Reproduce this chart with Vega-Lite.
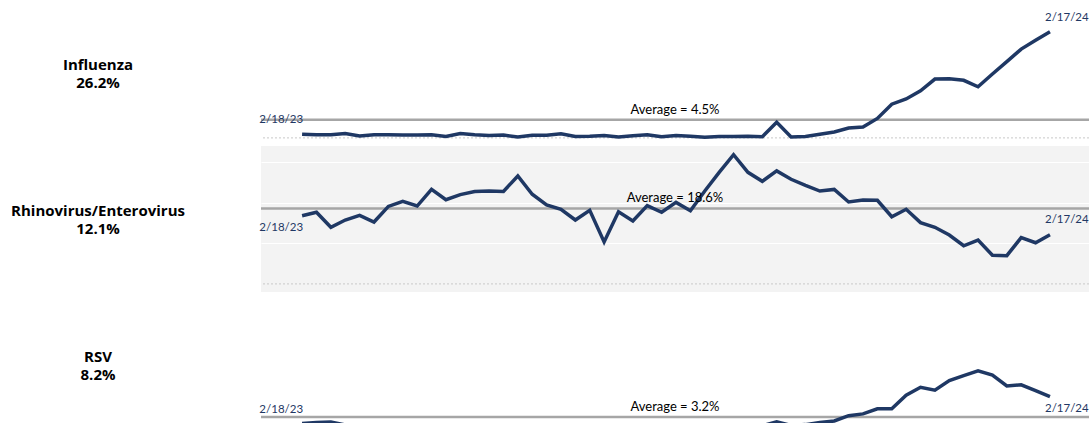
{
  "$schema": "https://vega.github.io/schema/vega-lite/v6.json",
  "padding": {"left": 10, "top": 0, "right": 0, "bottom": 0},
  "spacing": 0,
  "config": {"font": "Lato", "view": {"stroke": null}},
  "datasets": {
    "avg": [
      {"v": "Influenza", "avg": 4.5, "label": "Average = 4.5%"},
      {"v": "Rhinovirus/Enterovirus", "avg": 18.6, "label": "Average = 18.6%"},
      {"v": "RSV", "avg": 3.2, "label": "Average = 3.2%"}
    ],
    "weekly": [
      {"v":"Influenza","d":"2023-02-18","p":0.9},{"v":"Influenza","d":"2023-02-25","p":0.75},{"v":"Influenza","d":"2023-03-04","p":0.75},{"v":"Influenza","d":"2023-03-11","p":1.1},{"v":"Influenza","d":"2023-03-18","p":0.45},{"v":"Influenza","d":"2023-03-25","p":0.75},{"v":"Influenza","d":"2023-04-01","p":0.75},{"v":"Influenza","d":"2023-04-08","p":0.7},{"v":"Influenza","d":"2023-04-15","p":0.7},{"v":"Influenza","d":"2023-04-22","p":0.75},
      {"v":"Influenza","d":"2023-04-29","p":0.35},{"v":"Influenza","d":"2023-05-06","p":1.1},{"v":"Influenza","d":"2023-05-13","p":0.8},{"v":"Influenza","d":"2023-05-20","p":0.6},{"v":"Influenza","d":"2023-05-27","p":0.7},{"v":"Influenza","d":"2023-06-03","p":0.2},{"v":"Influenza","d":"2023-06-10","p":0.65},{"v":"Influenza","d":"2023-06-17","p":0.65},{"v":"Influenza","d":"2023-06-24","p":1.0},{"v":"Influenza","d":"2023-07-01","p":0.35},
      {"v":"Influenza","d":"2023-07-08","p":0.4},{"v":"Influenza","d":"2023-07-15","p":0.6},{"v":"Influenza","d":"2023-07-22","p":0.2},{"v":"Influenza","d":"2023-07-29","p":0.55},{"v":"Influenza","d":"2023-08-05","p":0.8},{"v":"Influenza","d":"2023-08-12","p":0.3},{"v":"Influenza","d":"2023-08-19","p":0.6},{"v":"Influenza","d":"2023-08-26","p":0.4},{"v":"Influenza","d":"2023-09-02","p":0.15},{"v":"Influenza","d":"2023-09-09","p":0.35},
      {"v":"Influenza","d":"2023-09-16","p":0.35},{"v":"Influenza","d":"2023-09-23","p":0.4},{"v":"Influenza","d":"2023-09-30","p":0.3},{"v":"Influenza","d":"2023-10-07","p":3.85},{"v":"Influenza","d":"2023-10-14","p":0.25},{"v":"Influenza","d":"2023-10-21","p":0.35},{"v":"Influenza","d":"2023-10-28","p":0.9},{"v":"Influenza","d":"2023-11-04","p":1.45},{"v":"Influenza","d":"2023-11-11","p":2.45},{"v":"Influenza","d":"2023-11-18","p":2.7},
      {"v":"Influenza","d":"2023-11-25","p":4.8},{"v":"Influenza","d":"2023-12-02","p":8.3},{"v":"Influenza","d":"2023-12-09","p":9.6},{"v":"Influenza","d":"2023-12-16","p":11.6},{"v":"Influenza","d":"2023-12-23","p":14.5},{"v":"Influenza","d":"2023-12-30","p":14.6},{"v":"Influenza","d":"2024-01-06","p":14.2},{"v":"Influenza","d":"2024-01-13","p":12.6},{"v":"Influenza","d":"2024-01-20","p":15.75},{"v":"Influenza","d":"2024-01-27","p":18.8},
      {"v":"Influenza","d":"2024-02-03","p":21.9},{"v":"Influenza","d":"2024-02-10","p":24.1},{"v":"Influenza","d":"2024-02-17","p":26.2},

      {"v":"Rhinovirus/Enterovirus","d":"2023-02-18","p":16.8},{"v":"Rhinovirus/Enterovirus","d":"2023-02-25","p":17.65},{"v":"Rhinovirus/Enterovirus","d":"2023-03-04","p":13.95},{"v":"Rhinovirus/Enterovirus","d":"2023-03-11","p":15.75},{"v":"Rhinovirus/Enterovirus","d":"2023-03-18","p":16.9},{"v":"Rhinovirus/Enterovirus","d":"2023-03-25","p":15.25},{"v":"Rhinovirus/Enterovirus","d":"2023-04-01","p":19.1},{"v":"Rhinovirus/Enterovirus","d":"2023-04-08","p":20.35},{"v":"Rhinovirus/Enterovirus","d":"2023-04-15","p":19.2},{"v":"Rhinovirus/Enterovirus","d":"2023-04-22","p":23.3},
      {"v":"Rhinovirus/Enterovirus","d":"2023-04-29","p":20.75},{"v":"Rhinovirus/Enterovirus","d":"2023-05-06","p":22.0},{"v":"Rhinovirus/Enterovirus","d":"2023-05-13","p":22.8},{"v":"Rhinovirus/Enterovirus","d":"2023-05-20","p":22.9},{"v":"Rhinovirus/Enterovirus","d":"2023-05-27","p":22.8},{"v":"Rhinovirus/Enterovirus","d":"2023-06-03","p":26.6},{"v":"Rhinovirus/Enterovirus","d":"2023-06-10","p":22.1},{"v":"Rhinovirus/Enterovirus","d":"2023-06-17","p":19.45},{"v":"Rhinovirus/Enterovirus","d":"2023-06-24","p":18.4},{"v":"Rhinovirus/Enterovirus","d":"2023-07-01","p":15.75},
      {"v":"Rhinovirus/Enterovirus","d":"2023-07-08","p":18.15},{"v":"Rhinovirus/Enterovirus","d":"2023-07-15","p":10.35},{"v":"Rhinovirus/Enterovirus","d":"2023-07-22","p":17.8},{"v":"Rhinovirus/Enterovirus","d":"2023-07-29","p":15.5},{"v":"Rhinovirus/Enterovirus","d":"2023-08-05","p":19.3},{"v":"Rhinovirus/Enterovirus","d":"2023-08-12","p":17.65},{"v":"Rhinovirus/Enterovirus","d":"2023-08-19","p":20.1},{"v":"Rhinovirus/Enterovirus","d":"2023-08-26","p":18.05},{"v":"Rhinovirus/Enterovirus","d":"2023-09-02","p":22.9},{"v":"Rhinovirus/Enterovirus","d":"2023-09-09","p":27.5},
      {"v":"Rhinovirus/Enterovirus","d":"2023-09-16","p":31.85},{"v":"Rhinovirus/Enterovirus","d":"2023-09-23","p":27.5},{"v":"Rhinovirus/Enterovirus","d":"2023-09-30","p":25.3},{"v":"Rhinovirus/Enterovirus","d":"2023-10-07","p":27.85},{"v":"Rhinovirus/Enterovirus","d":"2023-10-14","p":25.8},{"v":"Rhinovirus/Enterovirus","d":"2023-10-21","p":24.3},{"v":"Rhinovirus/Enterovirus","d":"2023-10-28","p":22.9},{"v":"Rhinovirus/Enterovirus","d":"2023-11-04","p":23.3},{"v":"Rhinovirus/Enterovirus","d":"2023-11-11","p":20.2},{"v":"Rhinovirus/Enterovirus","d":"2023-11-18","p":20.7},
      {"v":"Rhinovirus/Enterovirus","d":"2023-11-25","p":20.6},{"v":"Rhinovirus/Enterovirus","d":"2023-12-02","p":16.55},{"v":"Rhinovirus/Enterovirus","d":"2023-12-09","p":18.4},{"v":"Rhinovirus/Enterovirus","d":"2023-12-16","p":15.1},{"v":"Rhinovirus/Enterovirus","d":"2023-12-23","p":13.95},{"v":"Rhinovirus/Enterovirus","d":"2023-12-30","p":12.05},{"v":"Rhinovirus/Enterovirus","d":"2024-01-06","p":9.4},{"v":"Rhinovirus/Enterovirus","d":"2024-01-13","p":10.8},{"v":"Rhinovirus/Enterovirus","d":"2024-01-20","p":7.05},{"v":"Rhinovirus/Enterovirus","d":"2024-01-27","p":6.95},
      {"v":"Rhinovirus/Enterovirus","d":"2024-02-03","p":11.4},{"v":"Rhinovirus/Enterovirus","d":"2024-02-10","p":10.15},{"v":"Rhinovirus/Enterovirus","d":"2024-02-17","p":12.1},

      {"v":"RSV","d":"2023-02-18","p":1.55},{"v":"RSV","d":"2023-02-25","p":1.8},{"v":"RSV","d":"2023-03-04","p":1.95},{"v":"RSV","d":"2023-03-11","p":1.2},{"v":"RSV","d":"2023-03-18","p":1.0},{"v":"RSV","d":"2023-03-25","p":0.9},{"v":"RSV","d":"2023-04-01","p":0.8},{"v":"RSV","d":"2023-04-08","p":0.7},{"v":"RSV","d":"2023-04-15","p":0.6},{"v":"RSV","d":"2023-04-22","p":0.55},
      {"v":"RSV","d":"2023-04-29","p":0.5},{"v":"RSV","d":"2023-05-06","p":0.45},{"v":"RSV","d":"2023-05-13","p":0.4},{"v":"RSV","d":"2023-05-20","p":0.4},{"v":"RSV","d":"2023-05-27","p":0.35},{"v":"RSV","d":"2023-06-03","p":0.35},{"v":"RSV","d":"2023-06-10","p":0.3},{"v":"RSV","d":"2023-06-17","p":0.3},{"v":"RSV","d":"2023-06-24","p":0.3},{"v":"RSV","d":"2023-07-01","p":0.3},
      {"v":"RSV","d":"2023-07-08","p":0.35},{"v":"RSV","d":"2023-07-15","p":0.35},{"v":"RSV","d":"2023-07-22","p":0.4},{"v":"RSV","d":"2023-07-29","p":0.4},{"v":"RSV","d":"2023-08-05","p":0.45},{"v":"RSV","d":"2023-08-12","p":0.5},{"v":"RSV","d":"2023-08-19","p":0.5},{"v":"RSV","d":"2023-08-26","p":0.6},{"v":"RSV","d":"2023-09-02","p":0.65},{"v":"RSV","d":"2023-09-09","p":0.7},
      {"v":"RSV","d":"2023-09-16","p":0.8},{"v":"RSV","d":"2023-09-23","p":0.9},{"v":"RSV","d":"2023-09-30","p":1.0},{"v":"RSV","d":"2023-10-07","p":2.0},{"v":"RSV","d":"2023-10-14","p":1.1},{"v":"RSV","d":"2023-10-21","p":1.3},{"v":"RSV","d":"2023-10-28","p":1.85},{"v":"RSV","d":"2023-11-04","p":2.2},{"v":"RSV","d":"2023-11-11","p":3.5},{"v":"RSV","d":"2023-11-18","p":3.95},
      {"v":"RSV","d":"2023-11-25","p":5.2},{"v":"RSV","d":"2023-12-02","p":5.2},{"v":"RSV","d":"2023-12-09","p":8.55},{"v":"RSV","d":"2023-12-16","p":10.5},{"v":"RSV","d":"2023-12-23","p":9.8},{"v":"RSV","d":"2023-12-30","p":12.15},{"v":"RSV","d":"2024-01-06","p":13.4},{"v":"RSV","d":"2024-01-13","p":14.55},{"v":"RSV","d":"2024-01-20","p":13.5},{"v":"RSV","d":"2024-01-27","p":10.85},
      {"v":"RSV","d":"2024-02-03","p":11.1},{"v":"RSV","d":"2024-02-10","p":9.7},{"v":"RSV","d":"2024-02-17","p":8.2}
    ]
  },
  "vconcat": [
    {
      "width": 828, "height": 146,
      "view": {"stroke": null},
      "layer": [
        {"data": {"name": "avg"}, "transform": [{"filter": "datum.v == 'Influenza'"}],
         "mark": {"type": "rule", "color": "#c8c8c8", "strokeDash": [2, 2], "strokeWidth": 1},
         "encoding": {"y": {"datum": 0, "type": "quantitative", "scale": {"domain": [-2, 34], "nice": false, "zero": false}}}},
        {"data": {"name": "avg"}, "transform": [{"filter": "datum.v == 'Influenza'"}],
         "mark": {"type": "rule", "color": "#a6a6a6", "strokeWidth": 2.5},
         "encoding": {"y": {"field": "avg", "type": "quantitative", "scale": {"domain": [-2, 34], "nice": false, "zero": false}}}},
        {"data": {"name": "weekly"}, "transform": [{"filter": "datum.v == 'Influenza'"}],
         "mark": {"type": "line", "color": "#1f3864", "strokeWidth": 3.5},
         "encoding": {
           "x": {"field": "d", "type": "temporal", "axis": null, "scale": {"domain": [{"year": 2023, "month": 1, "date": 29, "utc": true}, {"year": 2024, "month": 3, "date": 7, "utc": true}]}},
           "y": {"field": "p", "type": "quantitative", "scale": {"domain": [-2, 34], "nice": false, "zero": false},
                 "axis": {"title": ["Influenza", "26.2%"], "labels": false, "ticks": false, "domain": false, "grid": true, "gridColor": "#ffffff", "gridWidth": 1, "values": [10, 20, 30],
                          "titleAngle": 0, "titleAlign": "center", "titleBaseline": "alphabetic", "titleX": -163.5, "titleY": 69, "titleLineHeight": 18.7,
                          "titleFont": "Open Sans", "titleFontSize": 15, "titleFontWeight": "bold", "titleColor": "#000000"}}}},
        {"data": {"name": "avg"}, "transform": [{"filter": "datum.v == 'Influenza'"}],
         "mark": {"type": "text", "font": "Lato", "fontSize": 13, "color": "#000000", "align": "center", "baseline": "alphabetic", "dy": -6},
         "encoding": {
           "x": {"datum": {"year": 2023, "month": 8, "date": 18, "hours": 12, "utc": true}, "type": "temporal", "scale": {"domain": [{"year": 2023, "month": 1, "date": 29, "utc": true}, {"year": 2024, "month": 3, "date": 7, "utc": true}]}},
           "y": {"field": "avg", "type": "quantitative", "scale": {"domain": [-2, 34], "nice": false, "zero": false}},
           "text": {"field": "label", "type": "nominal"}}},
        {"data": {"name": "weekly"}, "transform": [{"filter": "datum.v == 'Influenza'"}, {"filter": {"field": "d", "equal": {"year": 2023, "month": 2, "date": 18, "utc": true}}}],
         "mark": {"type": "text", "font": "Lato", "fontSize": 11.5, "color": "#1f3864", "align": "right", "baseline": "middle", "dx": 1, "dy": -14},
         "encoding": {
           "x": {"field": "d", "type": "temporal", "scale": {"domain": [{"year": 2023, "month": 1, "date": 29, "utc": true}, {"year": 2024, "month": 3, "date": 7, "utc": true}]}},
           "y": {"field": "p", "type": "quantitative", "scale": {"domain": [-2, 34], "nice": false, "zero": false}},
           "text": {"field": "d", "type": "temporal", "timeUnit": "utcyearmonthdate", "format": "%-m/%-d/%y"}}},
        {"data": {"name": "weekly"}, "transform": [{"filter": "datum.v == 'Influenza'"}, {"filter": {"field": "d", "equal": {"year": 2024, "month": 2, "date": 17, "utc": true}}}],
         "mark": {"type": "text", "font": "Lato", "fontSize": 11.5, "color": "#1f3864", "align": "left", "baseline": "middle", "dx": -5, "dy": -14},
         "encoding": {
           "x": {"field": "d", "type": "temporal", "scale": {"domain": [{"year": 2023, "month": 1, "date": 29, "utc": true}, {"year": 2024, "month": 3, "date": 7, "utc": true}]}},
           "y": {"field": "p", "type": "quantitative", "scale": {"domain": [-2, 34], "nice": false, "zero": false}},
           "text": {"field": "d", "type": "temporal", "timeUnit": "utcyearmonthdate", "format": "%-m/%-d/%y"}}}
      ]
    },
    {
      "width": 828, "height": 146,
      "view": {"stroke": null, "fill": "#f3f3f3"},
      "layer": [
        {"data": {"name": "avg"}, "transform": [{"filter": "datum.v == 'Rhinovirus/Enterovirus'"}],
         "mark": {"type": "rule", "color": "#c8c8c8", "strokeDash": [2, 2], "strokeWidth": 1},
         "encoding": {"y": {"datum": 0, "type": "quantitative", "scale": {"domain": [-2, 34], "nice": false, "zero": false}}}},
        {"data": {"name": "avg"}, "transform": [{"filter": "datum.v == 'Rhinovirus/Enterovirus'"}],
         "mark": {"type": "rule", "color": "#a6a6a6", "strokeWidth": 2.5},
         "encoding": {"y": {"field": "avg", "type": "quantitative", "scale": {"domain": [-2, 34], "nice": false, "zero": false}}}},
        {"data": {"name": "weekly"}, "transform": [{"filter": "datum.v == 'Rhinovirus/Enterovirus'"}],
         "mark": {"type": "line", "color": "#1f3864", "strokeWidth": 3.5},
         "encoding": {
           "x": {"field": "d", "type": "temporal", "axis": null, "scale": {"domain": [{"year": 2023, "month": 1, "date": 29, "utc": true}, {"year": 2024, "month": 3, "date": 7, "utc": true}]}},
           "y": {"field": "p", "type": "quantitative", "scale": {"domain": [-2, 34], "nice": false, "zero": false},
                 "axis": {"title": ["Rhinovirus/Enterovirus", "12.1%"], "labels": false, "ticks": false, "domain": false, "grid": true, "gridColor": "#ffffff", "gridWidth": 1, "values": [10, 20, 30],
                          "titleAngle": 0, "titleAlign": "center", "titleBaseline": "alphabetic", "titleX": -163.5, "titleY": 69, "titleLineHeight": 18.7,
                          "titleFont": "Open Sans", "titleFontSize": 15, "titleFontWeight": "bold", "titleColor": "#000000"}}}},
        {"data": {"name": "avg"}, "transform": [{"filter": "datum.v == 'Rhinovirus/Enterovirus'"}],
         "mark": {"type": "text", "font": "Lato", "fontSize": 13, "color": "#000000", "align": "center", "baseline": "alphabetic", "dy": -6},
         "encoding": {
           "x": {"datum": {"year": 2023, "month": 8, "date": 18, "hours": 12, "utc": true}, "type": "temporal", "scale": {"domain": [{"year": 2023, "month": 1, "date": 29, "utc": true}, {"year": 2024, "month": 3, "date": 7, "utc": true}]}},
           "y": {"field": "avg", "type": "quantitative", "scale": {"domain": [-2, 34], "nice": false, "zero": false}},
           "text": {"field": "label", "type": "nominal"}}},
        {"data": {"name": "weekly"}, "transform": [{"filter": "datum.v == 'Rhinovirus/Enterovirus'"}, {"filter": {"field": "d", "equal": {"year": 2023, "month": 2, "date": 18, "utc": true}}}],
         "mark": {"type": "text", "font": "Lato", "fontSize": 11.5, "color": "#1f3864", "align": "right", "baseline": "middle", "dx": 1, "dy": 12.5},
         "encoding": {
           "x": {"field": "d", "type": "temporal", "scale": {"domain": [{"year": 2023, "month": 1, "date": 29, "utc": true}, {"year": 2024, "month": 3, "date": 7, "utc": true}]}},
           "y": {"field": "p", "type": "quantitative", "scale": {"domain": [-2, 34], "nice": false, "zero": false}},
           "text": {"field": "d", "type": "temporal", "timeUnit": "utcyearmonthdate", "format": "%-m/%-d/%y"}}},
        {"data": {"name": "weekly"}, "transform": [{"filter": "datum.v == 'Rhinovirus/Enterovirus'"}, {"filter": {"field": "d", "equal": {"year": 2024, "month": 2, "date": 17, "utc": true}}}],
         "mark": {"type": "text", "font": "Lato", "fontSize": 11.5, "color": "#1f3864", "align": "left", "baseline": "middle", "dx": -5, "dy": -14.5},
         "encoding": {
           "x": {"field": "d", "type": "temporal", "scale": {"domain": [{"year": 2023, "month": 1, "date": 29, "utc": true}, {"year": 2024, "month": 3, "date": 7, "utc": true}]}},
           "y": {"field": "p", "type": "quantitative", "scale": {"domain": [-2, 34], "nice": false, "zero": false}},
           "text": {"field": "d", "type": "temporal", "timeUnit": "utcyearmonthdate", "format": "%-m/%-d/%y"}}}
      ]
    },
    {
      "width": 828, "height": 146,
      "view": {"stroke": null},
      "layer": [
        {"data": {"name": "avg"}, "transform": [{"filter": "datum.v == 'RSV'"}],
         "mark": {"type": "rule", "color": "#c8c8c8", "strokeDash": [2, 2], "strokeWidth": 1},
         "encoding": {"y": {"datum": 0, "type": "quantitative", "scale": {"domain": [-2, 34], "nice": false, "zero": false}}}},
        {"data": {"name": "avg"}, "transform": [{"filter": "datum.v == 'RSV'"}],
         "mark": {"type": "rule", "color": "#a6a6a6", "strokeWidth": 2.5},
         "encoding": {"y": {"field": "avg", "type": "quantitative", "scale": {"domain": [-2, 34], "nice": false, "zero": false}}}},
        {"data": {"name": "weekly"}, "transform": [{"filter": "datum.v == 'RSV'"}],
         "mark": {"type": "line", "color": "#1f3864", "strokeWidth": 3.5},
         "encoding": {
           "x": {"field": "d", "type": "temporal", "axis": null, "scale": {"domain": [{"year": 2023, "month": 1, "date": 29, "utc": true}, {"year": 2024, "month": 3, "date": 7, "utc": true}]}},
           "y": {"field": "p", "type": "quantitative", "scale": {"domain": [-2, 34], "nice": false, "zero": false},
                 "axis": {"title": ["RSV", "8.2%"], "labels": false, "ticks": false, "domain": false, "grid": true, "gridColor": "#ffffff", "gridWidth": 1, "values": [10, 20, 30],
                          "titleAngle": 0, "titleAlign": "center", "titleBaseline": "alphabetic", "titleX": -163.5, "titleY": 69, "titleLineHeight": 18.7,
                          "titleFont": "Open Sans", "titleFontSize": 15, "titleFontWeight": "bold", "titleColor": "#000000"}}}},
        {"data": {"name": "avg"}, "transform": [{"filter": "datum.v == 'RSV'"}],
         "mark": {"type": "text", "font": "Lato", "fontSize": 13, "color": "#000000", "align": "center", "baseline": "alphabetic", "dy": -6},
         "encoding": {
           "x": {"datum": {"year": 2023, "month": 8, "date": 18, "hours": 12, "utc": true}, "type": "temporal", "scale": {"domain": [{"year": 2023, "month": 1, "date": 29, "utc": true}, {"year": 2024, "month": 3, "date": 7, "utc": true}]}},
           "y": {"field": "avg", "type": "quantitative", "scale": {"domain": [-2, 34], "nice": false, "zero": false}},
           "text": {"field": "label", "type": "nominal"}}},
        {"data": {"name": "weekly"}, "transform": [{"filter": "datum.v == 'RSV'"}, {"filter": {"field": "d", "equal": {"year": 2023, "month": 2, "date": 18, "utc": true}}}],
         "mark": {"type": "text", "font": "Lato", "fontSize": 11.5, "color": "#1f3864", "align": "right", "baseline": "middle", "dx": 1, "dy": -14},
         "encoding": {
           "x": {"field": "d", "type": "temporal", "scale": {"domain": [{"year": 2023, "month": 1, "date": 29, "utc": true}, {"year": 2024, "month": 3, "date": 7, "utc": true}]}},
           "y": {"field": "p", "type": "quantitative", "scale": {"domain": [-2, 34], "nice": false, "zero": false}},
           "text": {"field": "d", "type": "temporal", "timeUnit": "utcyearmonthdate", "format": "%-m/%-d/%y"}}},
        {"data": {"name": "weekly"}, "transform": [{"filter": "datum.v == 'RSV'"}, {"filter": {"field": "d", "equal": {"year": 2024, "month": 2, "date": 17, "utc": true}}}],
         "mark": {"type": "text", "font": "Lato", "fontSize": 11.5, "color": "#1f3864", "align": "left", "baseline": "middle", "dx": -5, "dy": 12},
         "encoding": {
           "x": {"field": "d", "type": "temporal", "scale": {"domain": [{"year": 2023, "month": 1, "date": 29, "utc": true}, {"year": 2024, "month": 3, "date": 7, "utc": true}]}},
           "y": {"field": "p", "type": "quantitative", "scale": {"domain": [-2, 34], "nice": false, "zero": false}},
           "text": {"field": "d", "type": "temporal", "timeUnit": "utcyearmonthdate", "format": "%-m/%-d/%y"}}}
      ]
    }
  ]
}
